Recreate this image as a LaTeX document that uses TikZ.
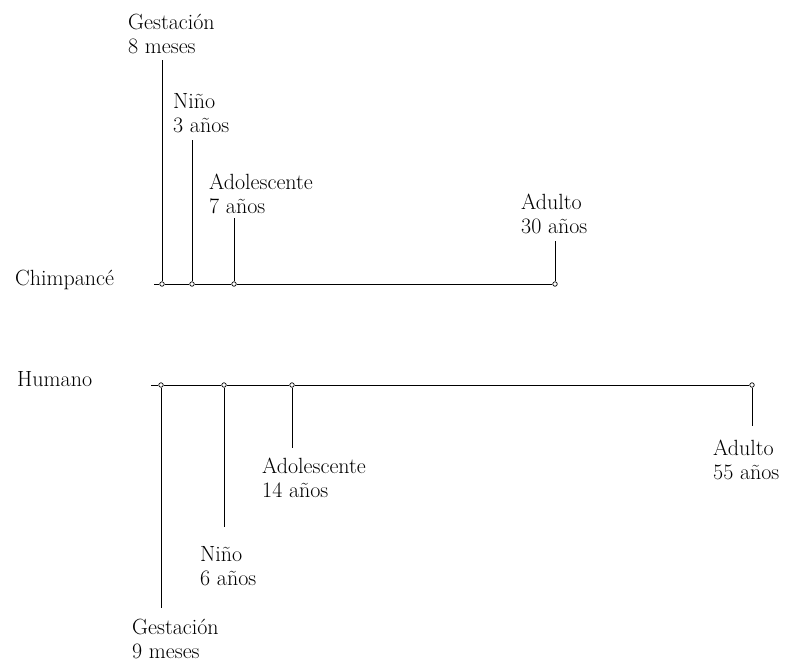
\documentclass[tikz,border=0pt]{standalone}
\begin{document}
\begin{tikzpicture}[x=1pt,y=-1pt,
  lab/.style={anchor=base west, inner sep=0pt, align=left, font=\fontsize{22}{24}\selectfont},
  dot/.style={circle, draw, fill=white, inner sep=0pt, minimum size=4.5pt, line width=0.7pt},
  ln/.style={line width=0.8pt}]
\useasboundingbox[fill=white] (0,0) rectangle (786,665);

% ---------- Chimpance ----------
\node[lab] (chim) at (15,285) {Chimpancé};
\coordinate (cs) at (154,284);
\node[dot] (c1) at (162,284) {};
\node[dot] (c2) at (192,284) {};
\node[dot] (c3) at (234,284) {};
\node[dot] (c4) at (555,284) {};
\draw[ln] (cs) -- (c1) -- (c2) -- (c3) -- (c4);

% labels: anchor is the baseline of the last line
\node[lab] (cl1) at (128,53) {Gestación\\8 meses};
\node[lab] (cl2) at (173,132) {Niño\\3 años};
\node[lab] (cl3) at (209,213) {Adolescente\\7 años};
\node[lab] (cl4) at (521,233) {Adulto\\30 años};

\coordinate (c1t) at (162,60);
\coordinate (c2t) at (192,140);
\coordinate (c3t) at (234,218);
\coordinate (c4t) at (555,241);
\draw[ln] (c1) -- (c1t);
\draw[ln] (c2) -- (c2t);
\draw[ln] (c3) -- (c3t);
\draw[ln] (c4) -- (c4t);

% ---------- Humano ----------
\node[lab] (hum) at (17,386) {Humano};
\coordinate (hs) at (151,385);
\node[dot] (h1) at (161,385) {};
\node[dot] (h2) at (224,385) {};
\node[dot] (h3) at (292,385) {};
\node[dot] (h4) at (752,385) {};
\draw[ln] (hs) -- (h1) -- (h2) -- (h3) -- (h4);

\node[lab] (hl1) at (132,658) {Gestación\\9 meses};
\node[lab] (hl2) at (200,585) {Niño\\6 años};
\node[lab] (hl3) at (262,497) {Adolescente\\14 años};
\node[lab] (hl4) at (713,479) {Adulto\\55 años};

\coordinate (h1b) at (161,608);
\coordinate (h2b) at (224,527);
\coordinate (h3b) at (292,448);
\coordinate (h4b) at (752,426);
\draw[ln] (h1) -- (h1b);
\draw[ln] (h2) -- (h2b);
\draw[ln] (h3) -- (h3b);
\draw[ln] (h4) -- (h4b);
\end{tikzpicture}
\end{document}
